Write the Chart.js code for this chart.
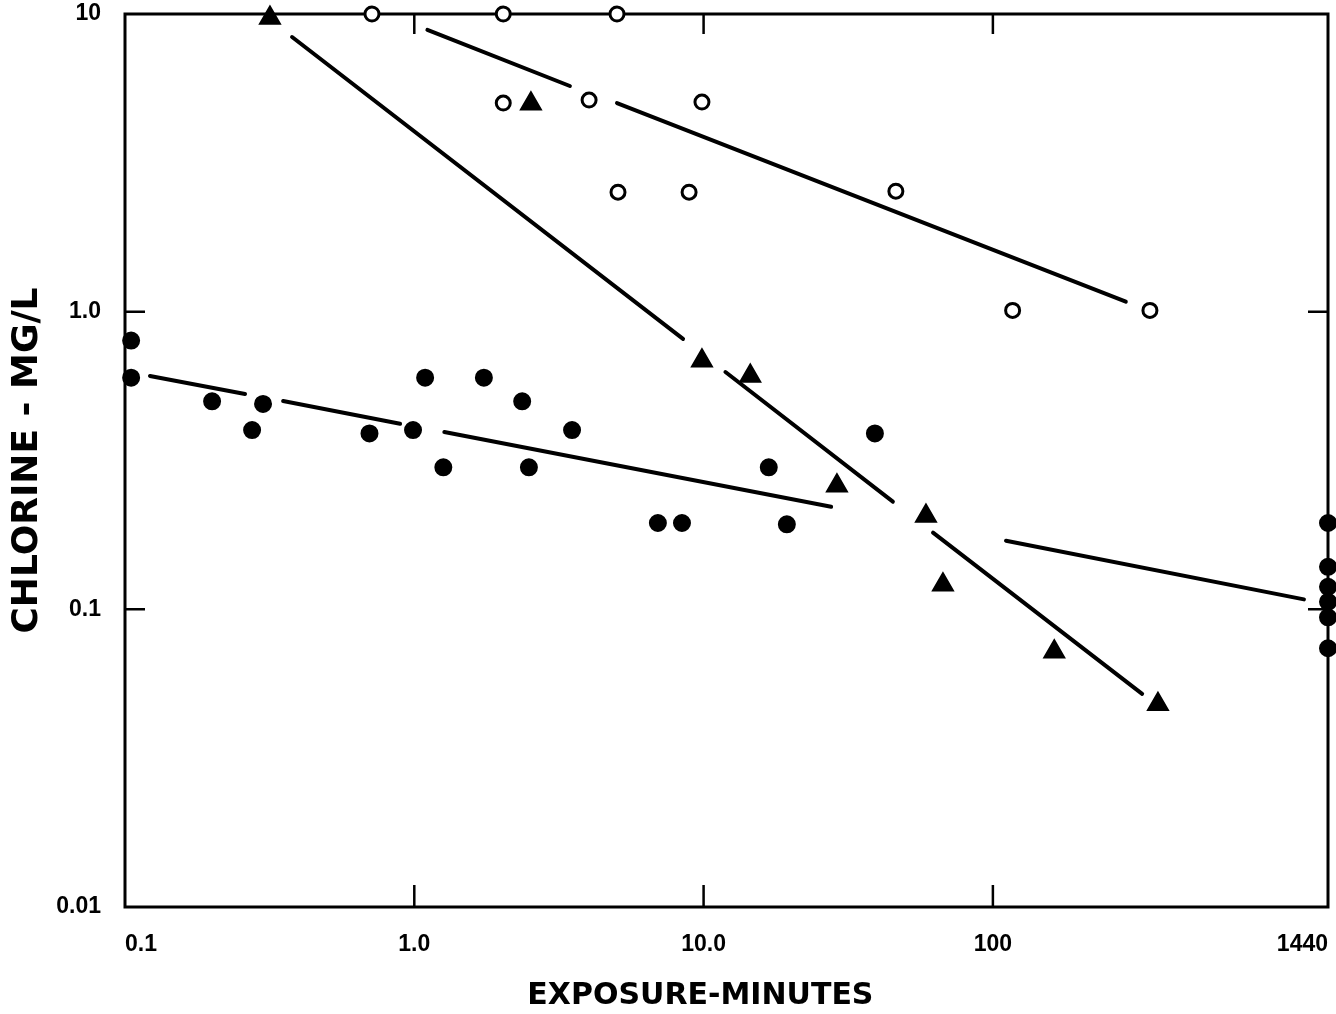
<!DOCTYPE html>
<html>
<head>
<meta charset="utf-8">
<title>Chlorine residual vs exposure</title>
<script src="https://cdn.jsdelivr.net/npm/chart.js@4.4.1/dist/chart.umd.min.js"></script>
<style>
  html, body { margin: 0; padding: 0; background: #fff; }
  #wrap { width: 1336px; height: 1014px; }
</style>
</head>
<body>
<div id="wrap"><canvas id="chlorineChart" width="1336" height="1014"></canvas></div>
<script>
// axis ticks
const xTicks = [0.1, 1, 10, 100, 1440];
const xTickLabels = ['0.1', '1.0', '10.0', '100', '1440'];
const yTicks = [0.01, 0.1, 1, 10];
const yTickLabels = ['0.01', '0.1', '1.0', '10'];

// open circles
const openX = [0.714, 2.03, 5.02, 2.03, 4.02, 9.87, 5.06, 8.91, 46.2, 117, 349];
const openY = [10, 10, 10, 5.02, 5.14, 5.06, 2.52, 2.52, 2.54, 1.01, 1.01];

// filled triangles
const triX = [0.317, 2.53, 9.87, 14.5, 28.9, 58.7, 67.2, 163, 372];
const triY = [9.7, 4.99, 0.684, 0.608, 0.260, 0.206, 0.121, 0.072, 0.048];

// filled circles
const dotX = [0.105, 0.105, 0.20, 0.275, 0.30, 0.70, 0.99, 1.09, 1.26, 1.74, 2.36, 2.49, 3.51,
              6.95, 8.42, 16.8, 19.4, 39.1, 1440, 1440, 1440, 1440, 1440, 1440];
const dotY = [0.80, 0.60, 0.50, 0.40, 0.49, 0.39, 0.40, 0.60, 0.30, 0.60, 0.50, 0.30, 0.40,
              0.195, 0.195, 0.30, 0.193, 0.39, 0.195, 0.139, 0.119, 0.106, 0.094, 0.074];

// fitted lines (null = gap in the drawn line)
const fitOpenX = [1.11, 3.45, null, 5.02, 288];
const fitOpenY = [8.84, 5.73, null, 5.02, 1.08];
const fitTriX = [0.378, 8.49, null, 11.9, 45.1, null, 62.1, 328];
const fitTriY = [8.37, 0.810, null, 0.627, 0.230, null, 0.181, 0.052];
const fitDotX = [0.122, 0.260, null, 0.352, 0.893, null, 1.27, 27.6];
const fitDotY = [0.608, 0.529, null, 0.501, 0.420, null, 0.394, 0.221];
const fitDot2X = [111, 1189];
const fitDot2Y = [0.170, 0.108];

const pts = (xs, ys) => xs.map((x, i) => ({ x: x, y: ys[i] }));

const tickFont = { family: '"Liberation Sans", Arial, sans-serif', size: 23, weight: 'bold' };
const titleFont = { family: '"DejaVu Sans", sans-serif', size: 30, weight: 'bold', lineHeight: 1.2 };

// box round the plot plus the short inward ticks on all four sides
const frame = {
    id: 'frame',
    beforeDatasetsDraw(chart) {
        const { ctx, chartArea: a, scales: { x, y } } = chart;
        ctx.save();
        ctx.strokeStyle = '#000';
        ctx.lineWidth = 3;
        ctx.strokeRect(a.left, a.top, a.right - a.left, a.bottom - a.top);
        ctx.lineWidth = 2.5;
        ctx.beginPath();
        xTicks.slice(1, -1).forEach(v => {
            const px = x.getPixelForValue(v);
            ctx.moveTo(px, a.bottom); ctx.lineTo(px, a.bottom - 22);
            ctx.moveTo(px, a.top); ctx.lineTo(px, a.top + 20);
        });
        yTicks.slice(1, -1).forEach(v => {
            const py = y.getPixelForValue(v);
            ctx.moveTo(a.left, py); ctx.lineTo(a.left + 20, py);
            ctx.moveTo(a.right, py); ctx.lineTo(a.right - 20, py);
        });
        ctx.stroke();
        ctx.restore();
    }
};

function fitLine(xs, ys) {
    return {
        type: 'line',
        data: pts(xs, ys),
        borderColor: '#000',
        borderWidth: 4,
        borderCapStyle: 'round',
        pointRadius: 0,
        spanGaps: false,
        fill: false,
        clip: false
    };
}

new Chart(document.getElementById('chlorineChart'), {
    type: 'scatter',
    data: {
        datasets: [
            {
                label: 'open',
                data: pts(openX, openY),
                pointStyle: 'circle',
                pointRadius: 7,
                borderWidth: 3,
                borderColor: '#000',
                backgroundColor: '#fff',
                clip: false
            },
            {
                label: 'triangles',
                data: pts(triX, triY),
                pointStyle: 'triangle',
                pointRadius: 11.5,
                borderWidth: 2,
                borderColor: '#000',
                backgroundColor: '#000',
                clip: false
            },
            {
                label: 'dots',
                data: pts(dotX, dotY),
                pointStyle: 'circle',
                pointRadius: 8,
                borderWidth: 2,
                borderColor: '#000',
                backgroundColor: '#000',
                clip: false
            },
            fitLine(fitOpenX, fitOpenY),
            fitLine(fitTriX, fitTriY),
            fitLine(fitDotX, fitDotY),
            fitLine(fitDot2X, fitDot2Y)
        ]
    },
    options: {
        responsive: false,
        devicePixelRatio: 1,
        animation: false,
        layout: { autoPadding: false, padding: { top: 14, right: 8, left: 0, bottom: 0 } },
        plugins: {
            legend: { display: false },
            tooltip: { enabled: false }
        },
        scales: {
            x: {
                type: 'logarithmic',
                min: 0.1,
                max: 1440,
                afterBuildTicks: s => { s.ticks = xTicks.map(v => ({ value: v })); },
                ticks: {
                    autoSkip: false,
                    maxRotation: 0,
                    align: 'inner',
                    padding: 24,
                    color: '#000',
                    font: tickFont,
                    callback: (v, i) => xTickLabels[i]
                },
                grid: { display: false, drawTicks: false },
                border: { display: false },
                title: {
                    display: true,
                    text: 'EXPOSURE-MINUTES     ',
                    color: '#000',
                    font: titleFont,
                    padding: { top: 0, bottom: 0 }
                },
                afterFit: s => { s.height = 107; s.paddingLeft = 0; s.paddingRight = 0; }
            },
            y: {
                type: 'logarithmic',
                min: 0.01,
                max: 10,
                afterBuildTicks: s => { s.ticks = yTicks.map(v => ({ value: v })); },
                ticks: {
                    autoSkip: false,
                    padding: 24,
                    color: '#000',
                    font: tickFont,
                    callback: (v, i) => yTickLabels[i]
                },
                grid: { display: false, drawTicks: false },
                border: { display: false },
                title: {
                    display: true,
                    text: 'CHLORINE - MG/L',
                    color: '#000',
                    font: { family: '"DejaVu Sans", sans-serif', size: 36, weight: 'bold', lineHeight: 1 },
                    padding: { top: 10, bottom: 0 }
                },
                afterFit: s => { s.width = 125; s.paddingTop = 0; s.paddingBottom = 0; }
            }
        }
    },
    plugins: [frame]
});
</script>
</body>
</html>
